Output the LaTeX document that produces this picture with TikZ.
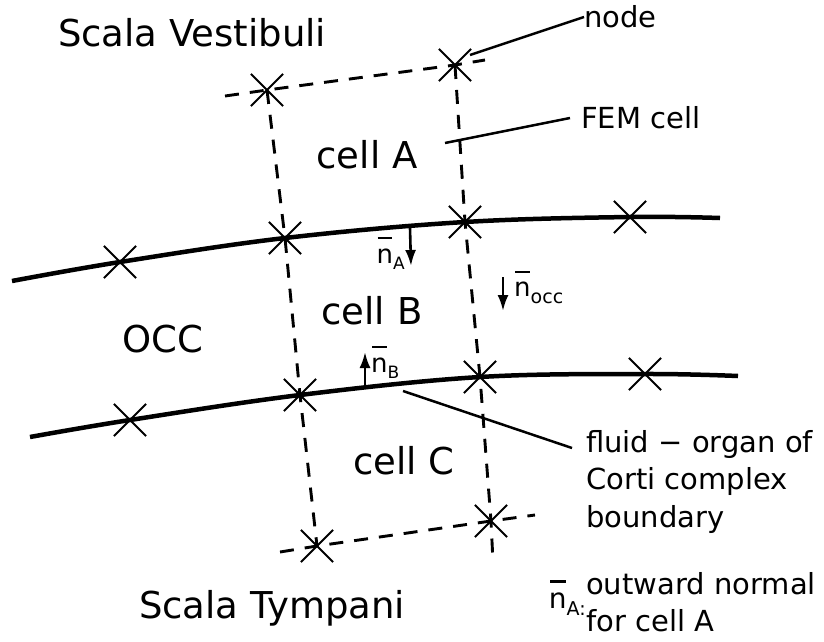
\documentclass[tikz,border=0pt]{standalone}
\usepackage{fontspec}
\setmainfont{DejaVu Sans}
\usetikzlibrary{shapes.misc,arrows.meta,positioning}

% normal vector label: barred n with a lowered index (optional arg = index size)
\newcommand{\nbar}[2][17]{\makebox[0pt][l]{\smash{\hspace{0.04em}\rule[0.92em]{0.55em}{0.08em}}}n\raisebox{-0.45ex}{\fontsize{#1}{#1}\selectfont #2}}

\begin{document}
\begin{tikzpicture}[x=1pt, y=-1pt,
            fempoint/.style={draw, cross out, line width=2.1pt, minimum size=30pt, inner sep=0pt},
            celledge/.style={line width=2.9pt, dash pattern=on 14pt off 11pt},
            boundary/.style={line width=4.5pt},
            leader/.style={line width=2.5pt},
            normalarrow/.style={line width=2.6pt, -{Latex[length=16pt,width=11pt]}},
            big/.style={font=\fontsize{37}{44}\selectfont},
            small/.style={font=\fontsize{29}{37.5}\selectfont, align=left, inner sep=0pt},
            nlabel/.style={font=\fontsize{26}{28}\selectfont, inner sep=0pt}]
        \useasboundingbox (0,0) rectangle (824,642);

        % mesh nodes
        \node[fempoint] (t1) at (267,90) {};
        \node[fempoint] (t2) at (455,65) {};
        \node[fempoint] (u0) at (120,262) {};
        \node[fempoint] (u1) at (285,238) {};
        \node[fempoint] (u2) at (465,222) {};
        \node[fempoint] (u3) at (630,217) {};
        \node[fempoint] (l0) at (130,420) {};
        \node[fempoint] (l1) at (300,395) {};
        \node[fempoint] (l2) at (480,377) {};
        \node[fempoint] (l3) at (645,374) {};
        \node[fempoint] (b1) at (317,546) {};
        \node[fempoint] (b2) at (491,521) {};

        % loose ends of the lines
        \coordinate (tw) at (225,96);
        \coordinate (te) at (485,60);
        \coordinate (bw) at (280,552);
        \coordinate (be) at (535,515);
        \coordinate (rs) at (493,562);
        \coordinate (uw) at (12,281);
        \coordinate (ue) at (720,218);
        \coordinate (lw) at (30,437);
        \coordinate (le) at (738,376);

        % cell edges
        \draw[celledge] (tw) -- (t1.center) -- (t2.center) -- (te);
        \draw[celledge] (bw) -- (b1.center) -- (b2.center) -- (be);
        \draw[celledge] (t1.center) -- (u1.center) -- (l1.center) -- (b1.center);
        \draw[celledge] (t2.center) -- (u2.center) -- (l2.center) -- (b2.center) -- (rs);

        % fluid - OCC boundaries
        \draw[boundary] plot[smooth, tension=0.6] coordinates {(uw) (u0.center) (u1.center) (u2.center) (u3.center) (ue)};
        \draw[boundary] plot[smooth, tension=0.6] coordinates {(lw) (l0.center) (l1.center) (l2.center) (l3.center) (le)};

        % regions
        \node[big] (sv) at (192,33) {Scala Vestibuli};
        \node[big] (st) at (272,608) {Scala Tympani};
        \node[big] (ca) at (367,155) {cell A};
        \node[big] (cb) at (372,311) {cell B};
        \node[big] (cc) at (404,461) {cell C};
        \node[big] (occ) at (163,339) {OCC};

        % normals
        \coordinate (na0) at (410,228);
        \coordinate (na1) at (411,266);
        \draw[normalarrow] (na0) -- (na1);
        \node[nlabel, anchor=east] (nal) at (405,259) {\nbar{A}};
        \coordinate (no0) at (503,277);
        \coordinate (no1) at (503,311);
        \draw[normalarrow] (no0) -- (no1);
        \node[nlabel, anchor=west] (nol) at (514,293) {\nbar[19]{occ}};
        \coordinate (nb0) at (365,389);
        \coordinate (nb1) at (365,352);
        \draw[normalarrow] (nb0) -- (nb1);
        \node[nlabel, anchor=west] (nbl) at (371,368) {\nbar{B}};

        % annotations
        \node[small, anchor=west] (nodelbl) at (584,17) {node};
        \node[small, anchor=west] (femlbl) at (581,118) {FEM cell};
        \node[small, anchor=north west] (ocblbl) at (586,430) {fluid − organ of\\Corti complex\\boundary};
        \node[small, anchor=north west] (keylbl) at (586,572) {outward normal\\for cell A};
        \node[nlabel, font=\fontsize{28}{30}\selectfont, anchor=east] (keyn) at (586,604) {\nbar[19]{A:}};
        \coordinate (p0) at (470,55);
        \coordinate (p1) at (445,143);
        \coordinate (p2) at (403,391);
        \draw[leader] (p0) -- (nodelbl.west);
        \draw[leader] (p1) -- (570,118);
        \draw[leader] (p2) -- (572,448);
\end{tikzpicture}
\end{document}
